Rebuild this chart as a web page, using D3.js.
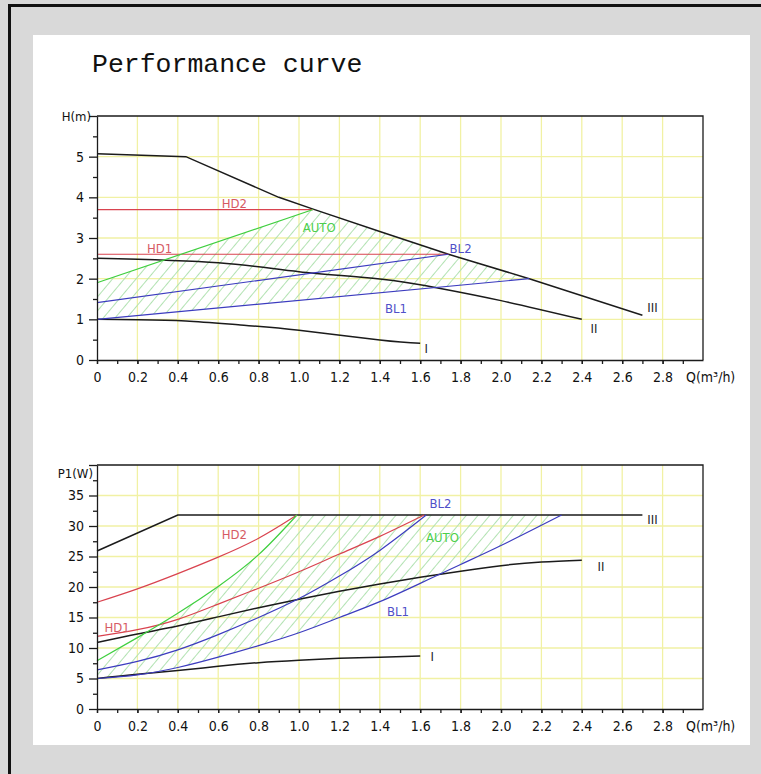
<!DOCTYPE html>
<html>
<head>
<meta charset="utf-8">
<script src="https://cdn.jsdelivr.net/npm/d3@7"></script>
<style>
  body { margin: 0; background: #d9d9d9; }
  svg { display: block; }
  .tick text { font-family: "DejaVu Sans Condensed", "DejaVu Sans", sans-serif; font-stretch: condensed; font-size: 14px; fill: #111; }
  .lbl { font-family: "DejaVu Sans Condensed", "DejaVu Sans", sans-serif; font-stretch: condensed; font-size: 13px; }
</style>
</head>
<body>
<script>
// tick labels
var qLabels = [0, 0.2, 0.4, 0.6, 0.8, 1.0, 1.2, 1.4, 1.6, 1.8, 2.0, 2.2, 2.4, 2.6, 2.8];
var hLabels = [0, 1, 2, 3, 4, 5];
var pLabels = [0, 5, 10, 15, 20, 25, 30, 35];

// H(m) curves  [Q, H]
var hIII = [[0, 5.07], [0.44, 5.0], [0.9, 4.0], [1.07, 3.71], [1.4, 3.16], [1.74, 2.6], [2.14, 2.0], [2.7, 1.1]];
var hII  = [[0, 2.5], [0.6, 2.39], [1.0, 2.17], [1.4, 1.99], [1.7, 1.76], [2.0, 1.46], [2.4, 1.0]];
var hI   = [[0, 1.0], [0.2, 0.99], [0.44, 0.96], [0.71, 0.86], [1.0, 0.73], [1.4, 0.49], [1.6, 0.41]];
var hHD2 = [[0, 3.7], [1.07, 3.7]];
var hHD1 = [[0, 2.6], [1.74, 2.6]];
var hAUTO = [[0, 1.9], [1.07, 3.7]];
var hBL2 = [[0, 1.41], [1.74, 2.6]];
var hBL1 = [[0, 1.0], [2.14, 2.0]];

// P1(W) curves  [Q, P]
var pIII = [[0, 25.9], [0.4, 31.8], [2.7, 31.8]];
var pII  = [[0, 10.9], [0.2, 12.3], [0.4, 13.6], [0.6, 15.1], [0.8, 16.6], [1.0, 18.0], [1.2, 19.3], [1.4, 20.5], [1.6, 21.6], [1.8, 22.6], [2.0, 23.5], [2.2, 24.1], [2.4, 24.4]];
var pI   = [[0, 5.0], [0.2, 5.7], [0.4, 6.3], [0.6, 7.0], [0.8, 7.6], [1.0, 8.0], [1.2, 8.3], [1.4, 8.5], [1.6, 8.7]];
var pHD2 = [[0, 17.5], [0.2, 19.7], [0.4, 22.2], [0.6, 24.9], [0.8, 28.0], [0.99, 31.8]];
var pHD1 = [[0, 11.9], [0.2, 13.0], [0.4, 14.7], [0.6, 17.2], [0.8, 19.8], [1.0, 22.5], [1.2, 25.4], [1.4, 28.3], [1.62, 31.8]];
var pAUTO = [[0, 7.9], [0.2, 11.7], [0.4, 15.7], [0.6, 20.1], [0.8, 25.3], [0.99, 31.8]];
var pBL2 = [[0, 6.4], [0.2, 7.8], [0.4, 9.7], [0.6, 12.2], [0.8, 15.0], [1.0, 18.1], [1.2, 21.8], [1.4, 26.0], [1.63, 31.8]];
var pBL1 = [[0, 5.0], [0.2, 5.6], [0.4, 6.8], [0.6, 8.5], [0.8, 10.4], [1.0, 12.5], [1.2, 15.0], [1.4, 17.6], [1.6, 20.6], [1.8, 23.7], [2.0, 26.8], [2.3, 31.8]];

// curve names, anchored in data units [text, Q, value]
var hNames = [["HD2", 0.68, 3.74], ["HD1", 0.31, 2.63], ["AUTO", 1.10, 3.15], ["BL2", 1.80, 2.63],
              ["BL1", 1.48, 1.16], ["III", 2.75, 1.18], ["II", 2.46, 0.66], ["I", 1.63, 0.17]];
var pNames = [["HD2", 0.68, 27.8], ["HD1", 0.10, 12.6], ["AUTO", 1.71, 27.3], ["BL2", 1.70, 33.0],
              ["BL1", 1.49, 15.2], ["III", 2.75, 30.3], ["II", 2.495, 22.7], ["I", 1.66, 7.9]];

var lineCol = { I: "#1b1b1b", II: "#1b1b1b", III: "#1b1b1b", HD1: "#d9434f", HD2: "#d9434f",
                AUTO: "#3fcf3f", BL1: "#3c3cbf", BL2: "#3c3cbf" };
var textCol = { I: "#222", II: "#222", III: "#222", HD1: "#d65a64", HD2: "#d65a64",
                AUTO: "#4ccf4c", BL1: "#5050c8", BL2: "#5050c8" };

var svg = d3.select("body").append("svg").attr("width", 761).attr("height", 774);

// page frame
svg.append("rect").attr("width", 761).attr("height", 774).attr("fill", "#d9d9d9");
svg.append("line").attr("x1", 8).attr("x2", 761).attr("y1", 5.5).attr("y2", 5.5)
  .attr("stroke", "#111").attr("stroke-width", 3);
svg.append("line").attr("x1", 9.5).attr("x2", 9.5).attr("y1", 4).attr("y2", 774)
  .attr("stroke", "#111").attr("stroke-width", 3);
svg.append("rect").attr("x", 33).attr("y", 35).attr("width", 717).attr("height", 710).attr("fill", "#fff");

svg.append("text")
  .attr("x", 92).attr("y", 72)
  .style("font-family", "'Liberation Mono', 'DejaVu Sans Mono', monospace")
  .style("font-size", "26.5px")
  .style("fill", "#111")
  .text("Performance curve");

// hatch pattern
svg.append("defs").append("pattern")
  .attr("id", "hatch")
  .attr("patternUnits", "userSpaceOnUse")
  .attr("width", 9).attr("height", 9)
  .attr("patternTransform", "rotate(40)")
  .append("line")
    .attr("x1", 4.5).attr("x2", 4.5).attr("y1", 0).attr("y2", 9)
    .attr("stroke", "#b2e2b2").attr("stroke-width", 1);

var x = d3.scaleLinear().domain([0, 3.0]).range([97, 703]);
var yH = d3.scaleLinear().domain([0, 6]).range([360, 116]);
var yP = d3.scaleLinear().domain([0, 40]).range([709, 465]);

function panel(y, yTicks, yStep, yName, nameDx, nameDy, curves, hatch, names) {
  var g = svg.append("g");
  var y0 = y.domain()[0], y1 = y.domain()[1];

  // grid
  g.selectAll(".vg").data(qLabels.filter(function(d) { return d > 0; }))
    .enter().append("line")
      .attr("x1", x).attr("x2", x)
      .attr("y1", y(y0)).attr("y2", y(y1))
      .attr("stroke", "#f1f1a4").attr("stroke-width", 1.3);
  g.selectAll(".hg").data(yTicks.filter(function(d) { return d > 0; }))
    .enter().append("line")
      .attr("x1", x(0)).attr("x2", x(3.0))
      .attr("y1", y).attr("y2", y)
      .attr("stroke", "#f1f1a4").attr("stroke-width", 1.3);

  // hatched AUTO area
  g.append("path")
    .datum(hatch)
    .attr("d", d3.line().x(function(d) { return x(d[0]); }).y(function(d) { return y(d[1]); }).curve(d3.curveLinearClosed))
    .attr("fill", "url(#hatch)");

  // curves
  curves.forEach(function(c) {
    var lf = d3.line().x(function(d) { return x(d[0]); }).y(function(d) { return y(d[1]); })
      .curve(c[1].length > 2 && c[0] != "III" ? d3.curveNatural : d3.curveLinear);
    g.append("path")
      .attr("d", lf(c[1]))
      .attr("fill", "none")
      .attr("stroke", lineCol[c[0]])
      .attr("stroke-width", lineCol[c[0]] == "#1b1b1b" ? 1.5 : 1.2);
  });

  // axes
  var minorX = d3.range(0, 30).map(function(i) { return i / 10; });
  var ax = g.append("g").attr("transform", "translate(0," + y(y0) + ")");
  ax.call(d3.axisBottom(x).tickValues(minorX).tickSize(4).tickSizeOuter(0).tickFormat(""));
  ax.append("g").call(d3.axisBottom(x).tickValues(qLabels).tickSize(4).tickPadding(8)
      .tickFormat(function(d) { return d === 0 ? "0" : d3.format(".1f")(d); }))
    .select(".domain").remove();

  var minorY = d3.range(y0 + yStep / 2, y1, yStep);
  var ay = g.append("g").attr("transform", "translate(" + x(0) + ",0)");
  ay.call(d3.axisLeft(y).tickValues(minorY).tickSize(4).tickSizeOuter(0).tickFormat(""));
  ay.append("g").call(d3.axisLeft(y).tickValues(yTicks.concat([y1])).tickSize(8).tickPadding(5)
      .tickFormat(function(d) { return d === y1 ? "" : d; }))
    .select(".domain").remove();
  g.selectAll(".domain, .tick line").attr("stroke", "#1b1b1b").attr("stroke-width", 1.3);

  // top and right frame
  g.append("path")
    .attr("d", "M" + x(0) + "," + y(y1) + "H" + x(3.0) + "V" + y(y0))
    .attr("fill", "none").attr("stroke", "#1b1b1b").attr("stroke-width", 1.3);

  g.append("text").attr("class", "lbl")
    .attr("x", x(0) + nameDx).attr("y", y(y1) + nameDy)
    .attr("text-anchor", "end").style("fill", "#111")
    .text(yName);
  g.append("text").attr("class", "lbl")
    .attr("x", x(3.0) - 17).attr("y", y(y0) + 22)
    .style("font-size", "14px").style("fill", "#111")
    .text("Q(m\u00b3/h)");

  // curve names
  g.selectAll(".nm").data(names).enter().append("text")
    .attr("class", "lbl")
    .attr("x", function(d) { return x(d[1]); })
    .attr("y", function(d) { return y(d[2]); })
    .attr("text-anchor", "middle")
    .style("fill", function(d) { return textCol[d[0]]; })
    .text(function(d) { return d[0]; });
}

var hHatch = hAUTO.concat(hIII.filter(function(d) { return d[0] > 1.07 && d[0] <= 2.14; }), hBL1.slice().reverse());
var pHatch = pAUTO.concat([[2.3, 31.8]], pBL1.slice().reverse());

panel(yH, hLabels, 1, "H(m)", -6, 5,
  [["I", hI], ["II", hII], ["III", hIII], ["HD2", hHD2], ["HD1", hHD1], ["AUTO", hAUTO], ["BL2", hBL2], ["BL1", hBL1]],
  hHatch, hNames);

panel(yP, pLabels, 5, "P1(W)", -4, 13,
  [["I", pI], ["II", pII], ["III", pIII], ["HD2", pHD2], ["HD1", pHD1], ["AUTO", pAUTO], ["BL2", pBL2], ["BL1", pBL1]],
  pHatch, pNames);
</script>
</body>
</html>
